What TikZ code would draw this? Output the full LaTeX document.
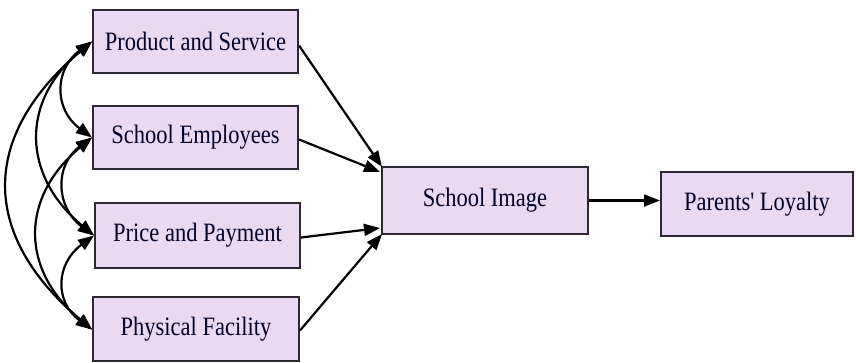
\documentclass[tikz,border=0pt]{standalone}
\usepackage{fontspec}
\setmainfont{Liberation Serif}
\usetikzlibrary{arrows.meta,calc}
\definecolor{boxfill}{RGB}{233,217,242}
\definecolor{boxline}{RGB}{45,40,50}
\newcommand{\tx}[1]{\scalebox{1}[1.18]{#1}}
\begin{document}
\begin{tikzpicture}[x=1pt,y=1pt,
  box/.style={draw=boxline,line width=2pt,fill=boxfill,inner sep=0pt,
    font=\fontsize{22.5}{26}\selectfont,text=black!85!blue},
  link/.style={line width=2.2pt,-{Triangle[length=16pt,width=12pt]}},
  cov/.style={line width=2.2pt,{Triangle[length=16pt,width=12pt]}-{Triangle[length=16pt,width=12pt]}}]
\useasboundingbox (0,0) rectangle (856,363);
\node[box,minimum width=205pt,minimum height=63pt] (ps) at (195.5,321.5) {\tx{Product and Service}};
\node[box,minimum width=205pt,minimum height=63pt] (se) at (195.5,225.5) {\tx{School Employees}};
\node[box,minimum width=205pt,minimum height=65pt] (pp) at (197.5,127.5) {\tx{Price and Payment}};
\node[box,minimum width=206pt,minimum height=64pt] (pf) at (196,33.5) {\tx{Physical Facility}};
\node[box,minimum width=206pt,minimum height=67pt] (si) at (485,162.5) {\tx{School Image}};
\node[box,minimum width=192pt,minimum height=64pt] (pl) at (757,158.5) {\tx{Parents\textquotesingle\ Loyalty}};
% covariances
\draw[cov] (ps.west) .. controls +(-38,-28) and +(-38,28) .. (se.west);
\draw[cov] (se.west) .. controls +(-38,-28) and +(-38,28) .. (pp.west);
\draw[cov] (pp.west) .. controls +(-38,-28) and +(-38,28) .. (pf.west);
\draw[cov] (ps.west) .. controls +(-72,-60) and +(-72,60) .. (pp.west);
\draw[cov] (se.west) .. controls +(-72,-60) and +(-72,60) .. (pf.west);
\draw[cov] (ps.west) .. controls +(-112,-95) and +(-112,95) .. (pf.west);
% paths to school image
\draw[link] ($(ps.east)+(0,-4)$) -- ($(si.north west)+(1,-1)$);
\draw[link] ($(se.east)+(0,-2)$) -- ($(si.north west)+(-1,-6)$);
\draw[link] ($(pp.east)+(0,-2)$) -- ($(si.south west)+(-1,7)$);
\draw[link] ($(pf.east)+(0,-1)$) -- ($(si.south west)+(1,1)$);
\draw[link] (si.east) -- (si.east -| pl.west);
\end{tikzpicture}
\end{document}
